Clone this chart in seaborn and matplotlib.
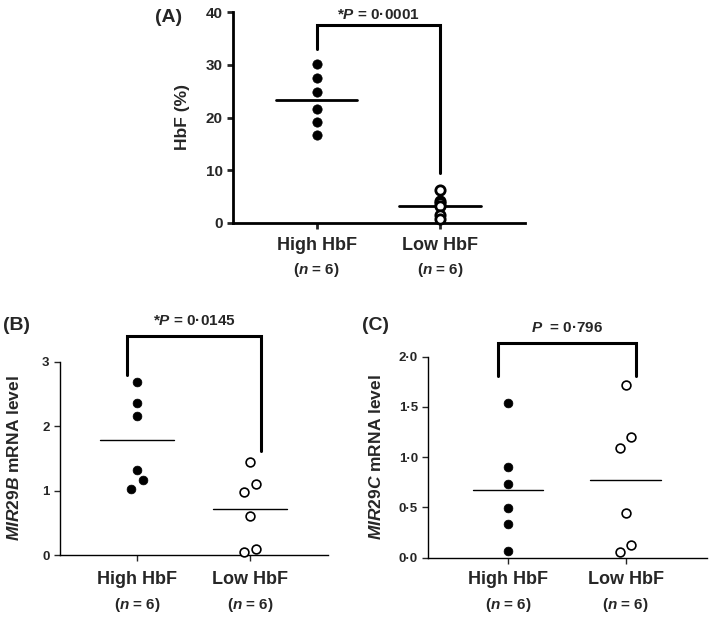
import numpy as np
import matplotlib
matplotlib.use("Agg")
import matplotlib.pyplot as plt
import seaborn as sns
import pandas as pd

# groups and values
groups = ["High HbF", "Low HbF"]
n_label = "($n$ = 6)"

# (A) HbF %
a_high = [30.1, 27.4, 24.9, 21.7, 19.1, 16.7]
a_low = [6.3, 4.2, 3.8, 3.2, 1.5, 0.8]
a_yticks = [0, 10, 20, 30, 40]
a_pval = "*$P$ = 0·0001"

# (B) MIR29B mRNA level
b_high = [2.68, 2.36, 2.16, 1.32, 1.16, 1.03]
b_low = [1.44, 1.10, 0.97, 0.61, 0.09, 0.04]
b_yticks = [0, 1, 2, 3]
b_pval = "*$P$ = 0·0145"

# (C) MIR29C mRNA level
c_high = [1.54, 0.90, 0.73, 0.49, 0.34, 0.07]
c_low = [1.72, 1.09, 1.20, 0.44, 0.06, 0.13]
c_yticks = [0.0, 0.5, 1.0, 1.5, 2.0]
c_yticklabels = ["0·0", "0·5", "1·0", "1·5", "2·0"]
c_pval = "$P$  = 0·796"

# horizontal spread of the dots (category units)
a_dx = [[0, 0, 0, 0, 0, 0], [0, 0, 0, 0, 0, 0]]
b_dx = [[0, 0, 0, 0, 0.05, -0.05], [0, 0.05, -0.05, 0, 0.05, -0.05]]
c_dx = [[0, 0, 0, 0, 0, 0], [0, -0.045, 0.045, 0, -0.045, 0.045]]

sns.set_style("ticks")
plt.rcParams["font.family"] = ["Liberation Sans", "DejaVu Sans"]
plt.rcParams["font.weight"] = "bold"
plt.rcParams["mathtext.fontset"] = "custom"
plt.rcParams["mathtext.it"] = "Liberation Sans:italic:bold"
plt.rcParams["mathtext.rm"] = "Liberation Sans:bold"
plt.rcParams["mathtext.bf"] = "Liberation Sans:bold"


def make_df(high, low, dx):
    rows = []
    for g, vals, offs in [(0, high, dx[0]), (1, low, dx[1])]:
        for v, o in zip(vals, offs):
            rows.append({"pos": g + o, "value": v, "group": groups[g]})
    return pd.DataFrame(rows)


def panel(ax, high, low, dx, yticks, ylim, ylabel, ms, lw, mlw, half, bracket, pval, ptxt_y,
          ylab_x, yticklabels=None, ticksize=9, label_off=(22, 47)):
    df = make_df(high, low, dx)
    sns.scatterplot(data=df[df.group == groups[0]], x="pos", y="value", ax=ax, s=ms,
                    color="black", edgecolor="black", linewidth=0.5, clip_on=False, zorder=3)
    sns.scatterplot(data=df[df.group == groups[1]], x="pos", y="value", ax=ax, s=ms,
                    color="white", edgecolor="black", linewidth=mlw, clip_on=False, zorder=3)
    for g, vals in enumerate([high, low]):
        m = np.mean(vals)
        ax.plot([g - half, g + half], [m, m], color="black", lw=lw, zorder=2)

    x0, x1, yl, yt, yr = bracket
    ax.plot([x0, x0, x1, x1], [yl, yt, yt, yr], color="black", lw=2.2, clip_on=False,
            solid_joinstyle="miter")
    ax.text((x0 + x1) / 2, ptxt_y, pval, ha="center", va="center", fontsize=11,
            fontweight="bold", clip_on=False)

    ax.set_xlim(-0.68, 1.69)
    ax.set_ylim(*ylim)
    ax.set_yticks(yticks)
    if yticklabels is not None:
        ax.set_yticklabels(yticklabels)
    ax.set_xticks([0, 1])
    ax.set_xticklabels([])
    for g in range(2):
        ax.annotate(groups[g], xy=(g, 0), xycoords=("data", "axes fraction"),
                    xytext=(0, -label_off[0] * 0.72), textcoords="offset points",
                    ha="center", va="center", fontsize=13, fontweight="bold")
        ax.annotate(n_label, xy=(g, 0), xycoords=("data", "axes fraction"),
                    xytext=(0, -label_off[1] * 0.72), textcoords="offset points",
                    ha="center", va="center", fontsize=11, fontweight="bold")
    ax.set_xlabel("")
    ax.set_ylabel(ylabel, fontsize=12.5, fontweight="bold")
    ax.yaxis.set_label_coords(ylab_x, 0.5)
    ax.tick_params(axis="y", labelsize=ticksize, length=4, width=lw)
    ax.tick_params(axis="x", length=4, width=lw)
    for lab in ax.get_yticklabels():
        lab.set_fontweight("bold")
    sns.despine(ax=ax)
    for sp in ["left", "bottom"]:
        ax.spines[sp].set_linewidth(lw)
        ax.spines[sp].set_color("black")


fig = plt.figure(figsize=(7.09, 6.18), dpi=100)
W, H = 709.0, 618.0

ax_a = fig.add_axes([233 / W, 1 - 223 / H, 292 / W, 211 / H])
ax_b = fig.add_axes([60 / W, 1 - 555 / H, 268 / W, 193.3 / H])
ax_c = fig.add_axes([428.3 / W, 1 - 557.7 / H, 278.4 / W, 201 / H])

panel(ax_a, a_high, a_low, a_dx, a_yticks, (0, 40), "HbF (%)", 45, 2.0, 2.0, 0.33,
      (0, 1, 33, 37.6, 9.5), a_pval, 39.5, -0.147, ticksize=11, label_off=(22, 47))
panel(ax_b, b_high, b_low, b_dx, b_yticks, (0, 3), "$MIR29B$ mRNA level", 40, 1.0, 1.2, 0.33,
      (-0.09, 1.1, 2.8, 3.4, 1.62), b_pval, 3.63, -0.142, ticksize=9.5, label_off=(25, 50))
panel(ax_c, c_high, c_low, c_dx, c_yticks, (0, 2), "$MIR29C$ mRNA level", 40, 1.0, 1.2, 0.30,
      (-0.09, 1.09, 1.81, 2.14, 1.81), c_pval, 2.29, -0.159, yticklabels=c_yticklabels,
      ticksize=9.5, label_off=(22, 47))

fig.text(169 / W, 1 - 17 / H, "(A)", fontsize=14, fontweight="bold", ha="center", va="center")
fig.text(17 / W, 1 - 325 / H, "(B)", fontsize=14, fontweight="bold", ha="center", va="center")
fig.text(376 / W, 1 - 325 / H, "(C)", fontsize=14, fontweight="bold", ha="center", va="center")

fig.savefig("out.png", dpi=100)
